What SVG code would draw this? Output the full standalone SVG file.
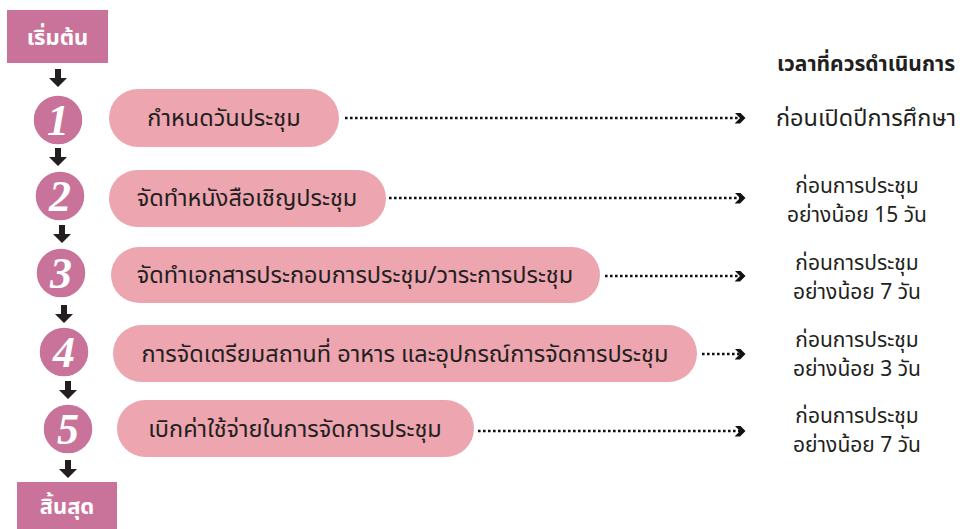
<svg xmlns="http://www.w3.org/2000/svg" width="960" height="529" viewBox="0 0 960 529">
<defs>
<style>
.box{fill:#c9739b}
.pill{fill:#eda5b0}
.circ{fill:#c9739b;stroke:#ffffff;stroke-width:1.5}
.bt{font-family:"Noto Sans Thai","Noto Sans","DejaVu Sans",sans-serif;font-weight:bold;fill:#ffffff;font-size:22px;text-anchor:middle}
.num{font-family:"Liberation Serif","DejaVu Serif",serif;font-style:italic;font-weight:bold;fill:#ffffff;font-size:44px;text-anchor:middle}
.pt{font-family:"Noto Sans Thai","Noto Sans","DejaVu Sans",sans-serif;fill:#231f20;font-size:23.5px;text-anchor:middle}
.rt{font-family:"Noto Sans Thai","Noto Sans","DejaVu Sans",sans-serif;fill:#231f20;font-size:21px;text-anchor:middle}
.dot{stroke:#111111;stroke-width:2.6;stroke-dasharray:2.6 2.4;fill:none}
.arr{fill:#231f20}
</style>
<marker id="chev" viewBox="0 0 10 10" refX="5" refY="5" markerWidth="11" markerHeight="11" markerUnits="userSpaceOnUse" orient="auto">
<path d="M0,0 L5,0 L10,5 L5,10 L0,10 L5,5 Z" fill="#111111"/>
</marker>
<path id="dn" d="M-3,-9 L3,-9 L3,0 L9,0 L0,9 L-9,0 L-3,0 Z"/>
</defs>

<g id="connectors">
<use href="#dn" class="arr" x="58" y="78"/>
<use href="#dn" class="arr" x="58" y="157"/>
<use href="#dn" class="arr" x="62" y="234"/>
<use href="#dn" class="arr" x="64" y="314"/>
<use href="#dn" class="arr" x="68" y="390"/>
<use href="#dn" class="arr" x="68" y="469"/>
<line class="dot" x1="345" y1="118" x2="740" y2="118" marker-end="url(#chev)"/>
<line class="dot" x1="389" y1="198" x2="740" y2="198" marker-end="url(#chev)"/>
<line class="dot" x1="605" y1="276" x2="740" y2="276" marker-end="url(#chev)"/>
<line class="dot" x1="702" y1="354" x2="740" y2="354" marker-end="url(#chev)"/>
<line class="dot" x1="478" y1="431" x2="740" y2="431" marker-end="url(#chev)"/>
</g>

<g id="start">
<rect class="box" x="7" y="10" width="101" height="53"/>
<text class="bt" x="57.5" y="45">เริ่มต้น</text>
</g>
<g id="end">
<rect class="box" x="17" y="482" width="100" height="47"/>
<text class="bt" x="67" y="514">สิ้นสุด</text>
</g>

<g id="step1">
<circle class="circ" cx="58" cy="120" r="25"/>
<text class="num" x="58" y="135">1</text>
<rect class="pill" x="109" y="89" width="230" height="58" rx="29"/>
<text class="pt" x="224" y="126">กำหนดวันประชุม</text>
</g>
<g id="step2">
<circle class="circ" cx="60" cy="196" r="25"/>
<text class="num" x="60" y="211">2</text>
<rect class="pill" x="109" y="170" width="277" height="57" rx="28.5"/>
<text class="pt" x="247" y="206">จัดทำหนังสือเชิญประชุม</text>
</g>
<g id="step3">
<circle class="circ" cx="61" cy="273" r="25"/>
<text class="num" x="61" y="288">3</text>
<rect class="pill" x="111" y="247" width="489" height="56" rx="28"/>
<text class="pt" x="355" y="283">จัดทำเอกสารประกอบการประชุม/วาระการประชุม</text>
</g>
<g id="step4">
<circle class="circ" cx="64" cy="352" r="25"/>
<text class="num" x="64" y="367">4</text>
<rect class="pill" x="113" y="325" width="584" height="57" rx="28.5"/>
<text class="pt" x="405" y="362">การจัดเตรียมสถานที่ อาหาร และอุปกรณ์การจัดการประชุม</text>
</g>
<g id="step5">
<circle class="circ" cx="68" cy="429" r="25"/>
<text class="num" x="68" y="444">5</text>
<rect class="pill" x="117" y="400" width="357" height="57" rx="28.5"/>
<text class="pt" x="295" y="437">เบิกค่าใช้จ่ายในการจัดการประชุม</text>
</g>

<g id="times">
<text class="rt" x="866" y="71" style="font-weight:bold">เวลาที่ควรดำเนินการ</text>
<text class="rt" x="866" y="126" style="font-size:23.5px">ก่อนเปิดปีการศึกษา</text>
<text class="rt" x="857" y="193">ก่อนการประชุม</text>
<text class="rt" x="857" y="222">อย่างน้อย 15 วัน</text>
<text class="rt" x="857" y="270">ก่อนการประชุม</text>
<text class="rt" x="857" y="299">อย่างน้อย 7 วัน</text>
<text class="rt" x="857" y="347">ก่อนการประชุม</text>
<text class="rt" x="857" y="376">อย่างน้อย 3 วัน</text>
<text class="rt" x="857" y="423">ก่อนการประชุม</text>
<text class="rt" x="857" y="452">อย่างน้อย 7 วัน</text>
</g>
</svg>
